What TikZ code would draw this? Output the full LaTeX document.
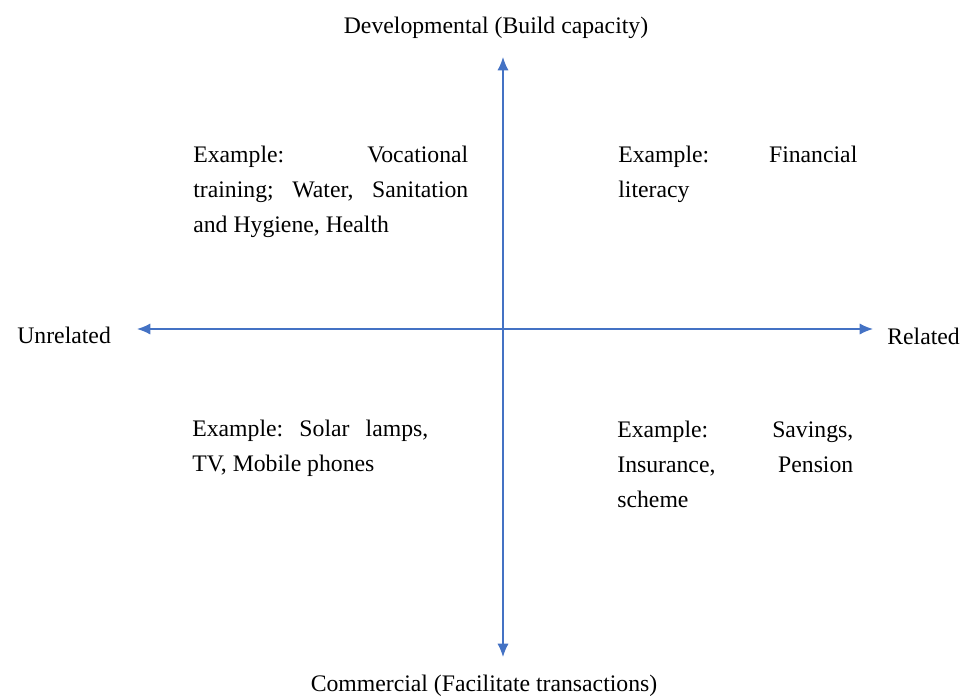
\documentclass[tikz,border=0pt]{standalone}
\usepackage{fontspec}
\setmainfont{Liberation Serif}
\usepackage{tikz}
\usepackage{xcolor}
\usetikzlibrary{arrows.meta}
\definecolor{axisblue}{RGB}{68,114,196}
\tolerance=10000
\hyphenpenalty=10000
\frenchspacing

\begin{document}
\begin{tikzpicture}[x=0.02cm,y=-0.02cm,
  axis/.style={draw=axisblue,line width=0.85pt,{Latex[length=7.6pt,width=6.4pt]}-{Latex[length=7.6pt,width=6.4pt]}},
  lbl/.style={inner sep=0pt,font=\fontsize{13.5}{20}\selectfont},
  quad/.style={lbl,anchor=base west,align=justify}]
\useasboundingbox (0,0) rectangle (965,697);
% axes
\coordinate (top) at (503,57);
\coordinate (bottom) at (503,657);
\coordinate (left) at (137,329);
\coordinate (right) at (873,329);
\draw[axis] (bottom) -- (top);
\draw[axis] (left) -- (right);
% axis labels
\node[lbl,anchor=base] (dev) at (496,33) {Developmental (Build capacity)};
\node[lbl,anchor=base] (com) at (484,691) {Commercial (Facilitate transactions)};
\node[lbl,anchor=base west] (unrel) at (17,343) {Unrelated};
\node[lbl,anchor=base west] (rel) at (887,344) {Related};
% quadrants
\node[quad,text width=5.5cm] (tl) at (193,162) {Example: Vocational\linebreak training; Water, Sanitation\linebreak and Hygiene, Health};
\node[quad,text width=4.78cm] (tr) at (618,162) {Example: Financial\linebreak literacy};
\node[quad,text width=4.72cm] (bl) at (192,436) {Example: Solar lamps,\linebreak TV, Mobile phones};
\node[quad,text width=4.72cm] (br) at (617,437) {Example: Savings,\linebreak Insurance, Pension\linebreak scheme};
\end{tikzpicture}
\end{document}
